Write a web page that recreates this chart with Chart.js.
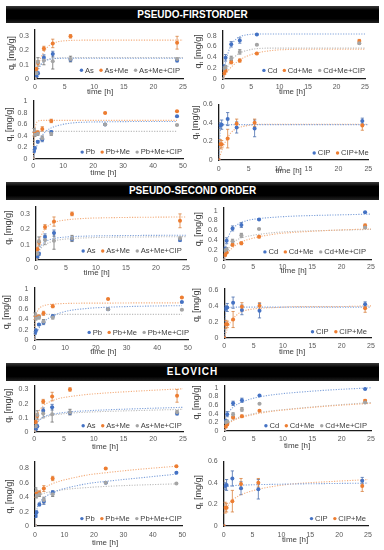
<!DOCTYPE html>
<html><head><meta charset="utf-8">
<script src="https://cdn.jsdelivr.net/npm/chart.js@4.4.1/dist/chart.umd.min.js"></script>
<style>
html,body{margin:0;padding:0;background:#fff}
body{width:384px;height:550px;position:relative;overflow:hidden;font-family:"Liberation Sans",Arial,sans-serif}
.banner{position:absolute;left:6px;width:373px;background:linear-gradient(#3a3a3a,#000 25%,#000 75%,#222);color:#fff;font-weight:bold;font-size:10px;text-align:center;white-space:nowrap}
canvas{position:absolute}
</style></head><body>
<div class="banner" style="top:6px;height:17px;line-height:17px">PSEUDO-FIRSTORDER</div>
<div class="banner" style="top:182px;height:18px;line-height:18px">PSEUDO-SECOND ORDER</div>
<div class="banner" style="top:363px;height:18px;line-height:18px;letter-spacing:1px">ELOVICH</div>
<script>
// ---------- measured data (time in h, q in mg/g) ----------
const times7 = [0, 0.25, 0.5, 1.5, 3, 6, 24];
const times8 = [0, 0.25, 0.5, 1.5, 3, 6, 24, 48];

const asQ        = [0, 0.02, 0.04, 0.15, 0.175, 0.135, 0.13];
const asErr      = [0, 0.005, 0.01, 0.02, 0.02, 0.01, 0.01];
const asMeQ      = [0, 0.07, 0.115, 0.215, 0.25, 0.30, 0.255];
const asMeErr    = [0, 0.01, 0.015, 0.015, 0.03, 0.012, 0.045];
const asMeCipQ   = [0, 0.04, 0.12, 0.13, 0.125, 0.14, 0.14];
const asMeCipErr = [0, 0.01, 0.03, 0.03, 0.055, 0.02, 0.01];

const cdQ        = [0, 0.23, 0.39, 0.64, 0.71, 0.82, 0.97];
const cdErr      = [0, 0.03, 0.06, 0.05, 0.05, 0.01, 0.01];
const cdMeQ      = [0, 0.10, 0.15, 0.31, 0.34, 0.47, 0.70];
const cdMeErr    = [0, 0.02, 0.02, 0.03, 0.03, 0.02, 0.03];
const cdMeCipQ   = [0, 0.20, 0.22, 0.38, 0.50, 0.63, 0.66];
const cdMeCipErr = [0, 0.03, 0.03, 0.04, 0.04, 0.01, 0.02];

const pbQ        = [0, 0.14, 0.19, 0.30, 0.34, 0.47, 0.60, 0.74];
const pbErr      = [0, 0.02, 0.02, 0.02, 0.04, 0.02, 0.01, 0.01];
const pbMeQ      = [0, 0.43, 0.46, 0.46, 0.52, 0.66, 0.80, 0.83];
const pbMeErr    = [0, 0.03, 0.03, 0.03, 0.04, 0.03, 0.01, 0.01];
const pbMeCipQ   = [0, 0.50, 0.42, 0.44, 0.36, 0.44, 0.60, 0.59];
const pbMeCipErr = [0, 0.03, 0.03, 0.03, 0.04, 0.03, 0.01, 0.01];

const cipQ       = [0, 0.37, 0.38, 0.44, 0.35, 0.34, 0.42];
const cipErr     = [0, 0.03, 0.05, 0.07, 0.06, 0.09, 0.03];
const cipMeQ     = [0, 0.17, 0.17, 0.23, 0.39, 0.40, 0.37];
const cipMeErr   = [0, 0.05, 0.04, 0.10, 0.05, 0.04, 0.05];

// ---------- fitted model curves ----------
const fitT25 = [0, 0.25, 0.5, 1, 1.5, 2, 3, 4, 6, 9, 12, 18, 25];
const fitT50 = [0, 0.25, 0.5, 1, 1.5, 2, 3, 4, 6, 9, 12, 18, 24, 36, 48];

// pseudo-first order
const pfoAs       = [0, 0.033, 0.06, 0.10, 0.122, 0.133, 0.142, 0.145, 0.146, 0.146, 0.146, 0.146, 0.146];
const pfoAsMe     = [0, 0.05, 0.09, 0.15, 0.19, 0.22, 0.25, 0.263, 0.271, 0.273, 0.273, 0.273, 0.273];
const pfoAsMeCip  = [0, 0.04, 0.07, 0.105, 0.125, 0.136, 0.145, 0.148, 0.15, 0.15, 0.15, 0.15, 0.15];
const pfoCd       = [0, 0.12, 0.30, 0.50, 0.62, 0.70, 0.78, 0.81, 0.83, 0.83, 0.83, 0.83, 0.83];
const pfoCdMe     = [0, 0.04, 0.08, 0.16, 0.22, 0.27, 0.35, 0.41, 0.48, 0.53, 0.545, 0.55, 0.55];
const pfoCdMeCip  = [0, 0.06, 0.12, 0.25, 0.34, 0.40, 0.48, 0.52, 0.56, 0.57, 0.57, 0.57, 0.57];
const pfoPb       = [0, 0.06, 0.11, 0.20, 0.27, 0.33, 0.41, 0.47, 0.54, 0.59, 0.62, 0.64, 0.645, 0.65, 0.65];
const pfoPbMe     = [0, 0.35, 0.50, 0.62, 0.655, 0.665, 0.67, 0.67, 0.67, 0.67, 0.67, 0.67, 0.67, 0.67, 0.67];
const pfoPbMeCip  = [0, 0.30, 0.42, 0.47, 0.48, 0.48, 0.48, 0.48, 0.48, 0.48, 0.48, 0.48, 0.48, 0.48, 0.48];
const pfoCip      = [0, 0.30, 0.37, 0.38, 0.38, 0.38, 0.38, 0.38, 0.38, 0.38, 0.38, 0.38, 0.38];
const pfoCipMe    = [0, 0.05, 0.10, 0.18, 0.24, 0.29, 0.34, 0.36, 0.38, 0.385, 0.385, 0.385, 0.385];

// pseudo-second order
const psoAs       = [0, 0.04, 0.07, 0.10, 0.118, 0.128, 0.14, 0.146, 0.152, 0.156, 0.158, 0.16, 0.161];
const psoAsMe     = [0, 0.07, 0.12, 0.17, 0.20, 0.22, 0.245, 0.255, 0.265, 0.272, 0.275, 0.278, 0.28];
const psoAsMeCip  = [0, 0.03, 0.055, 0.085, 0.10, 0.11, 0.125, 0.132, 0.14, 0.145, 0.148, 0.15, 0.152];
const psoCd       = [0, 0.20, 0.35, 0.53, 0.63, 0.69, 0.76, 0.80, 0.84, 0.87, 0.89, 0.91, 0.93];
const psoCdMe     = [0, 0.06, 0.11, 0.19, 0.25, 0.30, 0.37, 0.41, 0.47, 0.53, 0.56, 0.60, 0.63];
const psoCdMeCip  = [0, 0.09, 0.16, 0.27, 0.34, 0.39, 0.45, 0.48, 0.52, 0.56, 0.58, 0.60, 0.62];
const psoPb       = [0, 0.05, 0.10, 0.17, 0.23, 0.28, 0.35, 0.40, 0.47, 0.54, 0.58, 0.62, 0.64, 0.66, 0.67];
const psoPbMe     = [0, 0.33, 0.45, 0.56, 0.61, 0.64, 0.67, 0.685, 0.70, 0.71, 0.715, 0.72, 0.72, 0.725, 0.725];
const psoPbMeCip  = [0, 0.35, 0.43, 0.47, 0.48, 0.49, 0.495, 0.50, 0.50, 0.50, 0.50, 0.50, 0.50, 0.50, 0.50];
const psoCip      = [0, 0.33, 0.37, 0.38, 0.385, 0.385, 0.385, 0.385, 0.385, 0.385, 0.385, 0.385, 0.385];
const psoCipMe    = [0, 0.06, 0.11, 0.19, 0.24, 0.28, 0.33, 0.35, 0.37, 0.38, 0.39, 0.39, 0.40];

// Elovich (no value at t = 0)
const eloAs       = [null, 0.04, 0.065, 0.09, 0.105, 0.115, 0.125, 0.132, 0.142, 0.15, 0.156, 0.165, 0.174];
const eloAsMe     = [null, 0.08, 0.12, 0.16, 0.185, 0.20, 0.22, 0.235, 0.25, 0.265, 0.275, 0.29, 0.305];
const eloAsMeCip  = [null, 0.05, 0.07, 0.09, 0.10, 0.108, 0.118, 0.124, 0.133, 0.14, 0.145, 0.152, 0.16];
const eloCd       = [null, 0.27, 0.38, 0.48, 0.55, 0.60, 0.67, 0.72, 0.79, 0.85, 0.89, 0.95, 1.0];
const eloCdMe     = [null, 0.08, 0.13, 0.20, 0.24, 0.27, 0.32, 0.35, 0.41, 0.47, 0.51, 0.58, 0.64];
const eloCdMeCip  = [null, 0.10, 0.15, 0.22, 0.26, 0.29, 0.34, 0.37, 0.43, 0.48, 0.52, 0.59, 0.66];
const eloPb       = [null, 0.12, 0.20, 0.28, 0.32, 0.35, 0.39, 0.42, 0.46, 0.51, 0.54, 0.59, 0.62, 0.67, 0.72];
const eloPbMe     = [null, 0.40, 0.43, 0.46, 0.48, 0.50, 0.53, 0.55, 0.59, 0.63, 0.66, 0.71, 0.74, 0.79, 0.83];
const eloPbMeCip  = [null, 0.37, 0.39, 0.41, 0.43, 0.44, 0.455, 0.465, 0.48, 0.50, 0.515, 0.535, 0.55, 0.57, 0.585];
const eloCip      = [null, 0.36, 0.365, 0.37, 0.373, 0.375, 0.378, 0.38, 0.383, 0.386, 0.389, 0.393, 0.397];
const eloCipMe    = [null, 0.12, 0.16, 0.21, 0.24, 0.26, 0.29, 0.31, 0.34, 0.37, 0.39, 0.41, 0.43];

// ---------- labels & ticks ----------
const asLabels  = ['As', 'As+Me', 'As+Me+CIP'];
const cdLabels  = ['Cd', 'Cd+Me', 'Cd+Me+CIP'];
const pbLabels  = ['Pb', 'Pb+Me', 'Pb+Me+CIP'];
const cipLabels = ['CIP', 'CIP+Me'];
const xTicks25 = [0, 5, 10, 15, 20, 25];
const xTicks50 = [0, 10, 20, 30, 40, 50];
const yTicks03 = [0, 0.1, 0.2, 0.3];
const yTicks08 = [0, 0.2, 0.4, 0.6, 0.8];
const yTicks1  = [0, 0.2, 0.4, 0.6, 0.8, 1];
const yTicks06 = [0, 0.2, 0.4, 0.6];
const xTitleText = 'time [h]';

// ---------- styles ----------
const COLORS = ['#4472C4', '#ED7D31', '#A5A5A5'];
const FITCOLORS = ['#7EA1DA', '#F3AE7E', '#BDBDBD'];
const ERRCOLORS = ['#4a6fae', '#d9823f', '#6d6d6d'];
const FONT = '"Liberation Sans", Arial, sans-serif';

const groups = {
  as:  {labels: asLabels,  t: times7, q: [asQ, asMeQ, asMeCipQ], e: [asErr, asMeErr, asMeCipErr]},
  cd:  {labels: cdLabels,  t: times7, q: [cdQ, cdMeQ, cdMeCipQ], e: [cdErr, cdMeErr, cdMeCipErr]},
  pb:  {labels: pbLabels,  t: times8, q: [pbQ, pbMeQ, pbMeCipQ], e: [pbErr, pbMeErr, pbMeCipErr]},
  cip: {labels: cipLabels, t: times7, q: [cipQ, cipMeQ], e: [cipErr, cipMeErr]}
};

// layout of the 12 panels (page pixels)
const panels = [
  {g:'as',  fits:[pfoAs, pfoAsMe, pfoAsMeCip], ft:fitT25, col:0,   L:35,    T:25.3,  R:182.7, B:79,    yMax:0.35, yT:yTicks03, xMax:25, xT:xTicks25, lbl:8,   xt:[100,92.5],   yt:[11.7,53.3],  lg:[180,70.5]},
  {g:'cd',  fits:[pfoCd, pfoCdMe, pfoCdMeCip], ft:fitT25, col:192, L:222.7, T:26.3,  R:364.7, B:79,    yMax:0.9,  yT:yTicks08, xMax:25, xT:xTicks25, lbl:8,   xt:[292,92.5],   yt:[198.7,51.7], lg:[365,70.7]},
  {g:'pb',  fits:[pfoPb, pfoPbMe, pfoPbMeCip], ft:fitT50, col:0,   L:33.3,  T:95.6,  R:182.7, B:158.3, yMax:1.02, yT:yTicks1,  xMax:50, xT:xTicks50, lbl:7.4, xt:[103.3,172.7],yt:[10,124],     lg:[182,151.7]},
  {g:'cip', fits:[pfoCip, pfoCipMe],           ft:fitT25, col:192, L:218.7, T:100,   R:369,   B:160,   yMax:0.6,  yT:yTicks06, xMax:25, xT:xTicks25, lbl:9,   xt:[288.7,171],  yt:[195.3,122.5],lg:[368.7,153]},
  {g:'as',  fits:[psoAs, psoAsMe, psoAsMeCip], ft:fitT25, col:0,   L:36,    T:201.7, R:185.7, B:260,   yMax:0.35, yT:yTicks03, xMax:25, xT:xTicks25, lbl:8,   xt:[96.7,272],   yt:[8.3,227.3],  lg:[181.7,250.7]},
  {g:'cd',  fits:[psoCd, psoCdMe, psoCdMeCip], ft:fitT25, col:192, L:223.7, T:202.8, R:371,   B:260,   yMax:1.07, yT:yTicks1,  xMax:25, xT:xTicks25, lbl:7.3, xt:[293.7,271],  yt:[198.7,229],  lg:[366,251.7]},
  {g:'pb',  fits:[psoPb, psoPbMe, psoPbMeCip], ft:fitT50, col:0,   L:34.3,  T:283.3, R:188,   B:340,   yMax:1.03, yT:yTicks1,  xMax:50, xT:xTicks50, lbl:7.7, xt:[103.3,352.3],yt:[6.7,312.5],  lg:[189,332.7]},
  {g:'cip', fits:[psoCip, psoCipMe],           ft:fitT25, col:192, L:224.3, T:284,   R:371,   B:338.3, yMax:0.62, yT:yTicks06, xMax:25, xT:xTicks25, lbl:7.7, xt:[292,351.7],  yt:[197,305],    lg:[367,331.7]},
  {g:'as',  fits:[eloAs, eloAsMe, eloAsMeCip], ft:fitT25, col:0,   L:34.3,  T:381.2, R:182.7, B:431.7, yMax:0.33, yT:yTicks03, xMax:25, xT:xTicks25, lbl:7.3, xt:[105,447],    yt:[8.3,405.8],  lg:[181.7,426]},
  {g:'cd',  fits:[eloCd, eloCdMe, eloCdMeCip], ft:fitT25, col:192, L:224.3, T:381.2, R:371,   B:431,   yMax:1.06, yT:yTicks1,  xMax:25, xT:xTicks25, lbl:8.3, xt:[297,445.7],  yt:[197,402.5],  lg:[367,426]},
  {g:'pb',  fits:[eloPb, eloPbMe, eloPbMeCip], ft:fitT50, col:0,   L:35,    T:457.4, R:182.7, B:526,   yMax:0.9,  yT:yTicks08, xMax:50, xT:xTicks50, lbl:9,   xt:[105,542.7],  yt:[10,496.7],   lg:[181.7,519]},
  {g:'cip', fits:[eloCip, eloCipMe],           ft:fitT25, col:192, L:223.7, T:457.4, R:368.7, B:526.7, yMax:0.6,  yT:yTicks06, xMax:25, xT:xTicks25, lbl:9.3, xt:[295,540],    yt:[198.7,492.5],lg:[366,519]}
];

// ---------- plugins ----------
const errorBars = {
  id: 'errorBars',
  beforeDatasetsDraw(chart) {
    const ctx = chart.ctx, xs = chart.scales.x, ys = chart.scales.y, a = chart.chartArea;
    ctx.save();
    ctx.beginPath(); ctx.rect(a.left - 3, a.top - 1, a.right - a.left + 6, a.bottom - a.top + 4); ctx.clip();
    chart.data.datasets.forEach(ds => {
      if (!ds.errors) return;
      ctx.strokeStyle = ds.errColor; ctx.lineWidth = 0.8;
      ds.data.forEach((p, j) => {
        const e = ds.errors[j]; if (!e) return;
        const x = xs.getPixelForValue(p.x);
        const y1 = ys.getPixelForValue(p.y - e), y2 = ys.getPixelForValue(p.y + e);
        ctx.beginPath();
        ctx.moveTo(x, y1); ctx.lineTo(x, y2);
        ctx.moveTo(x - 1.6, y1); ctx.lineTo(x + 1.6, y1);
        ctx.moveTo(x - 1.6, y2); ctx.lineTo(x + 1.6, y2);
        ctx.stroke();
      });
    });
    ctx.restore();
  }
};

const annotations = {
  id: 'annotations',
  afterDraw(chart) {
    const p = chart.canvas.$panel; if (!p) return;
    const ctx = chart.ctx;
    const ox = p.cx, oy = p.cy;
    ctx.save();
    ctx.fillStyle = '#404040';
    ctx.font = '8px ' + FONT;
    ctx.textAlign = 'center'; ctx.textBaseline = 'middle';
    ctx.fillText(xTitleText, p.xt[0] - ox, p.xt[1] - oy);
    ctx.translate(p.yt[0] - ox, p.yt[1] - oy);
    ctx.rotate(-Math.PI / 2);
    ctx.textAlign = 'left';
    ctx.font = '9px ' + FONT; const wq = ctx.measureText('q').width; const wr = ctx.measureText(' [mg/g]').width;
    ctx.font = '6px ' + FONT; const wt = ctx.measureText('t').width;
    const s = -(wq + wt + wr) / 2;
    ctx.font = '9px ' + FONT; ctx.fillText('q', s, 0);
    ctx.font = '6px ' + FONT; ctx.fillText('t', s + wq, 2.2);
    ctx.font = '9px ' + FONT; ctx.fillText(' [mg/g]', s + wq + wt, 0);
    ctx.restore();
    ctx.save();
    const items = chart.data.datasets.filter(d => d.inLegend);
    ctx.font = '7.6px ' + FONT; ctx.textBaseline = 'middle'; ctx.textAlign = 'left';
    const ms = 3.4, gap = 1.8, sep = 5.5;
    const widths = items.map(d => ms + gap + ctx.measureText(d.label).width);
    const total = widths.reduce((a, b) => a + b, 0) + sep * (items.length - 1);
    let x = p.lg[0] - ox - total; const y = p.lg[1] - oy;
    items.forEach((d, i) => {
      ctx.fillStyle = d.backgroundColor;
      ctx.beginPath(); ctx.arc(x + ms / 2, y, ms / 2, 0, Math.PI * 2); ctx.fill();
      ctx.fillStyle = '#404040';
      ctx.fillText(d.label, x + ms + gap, y + 0.3);
      x += widths[i] + sep;
    });
    ctx.restore();
  }
};

// ---------- build charts ----------
const PAD_T = 6, PAD_R = 8, X_H = 22;
panels.forEach(p => {
  const g = groups[p.g];
  const cx = p.col, cy = p.T - PAD_T;
  const w = Math.round(p.R + PAD_R - cx), h = Math.round(p.B + X_H - cy);
  p.cx = cx; p.cy = cy;
  const cv = document.createElement('canvas');
  cv.$panel = p;
  cv.width = w; cv.height = h;
  cv.style.left = cx + 'px'; cv.style.top = cy + 'px';
  cv.style.width = w + 'px'; cv.style.height = h + 'px';
  document.body.appendChild(cv);

  const datasets = [];
  p.fits.forEach((f, i) => {
    datasets.push({
      type: 'line', label: 'fit ' + g.labels[i],
      data: p.ft.map((x, k) => ({x, y: f[k]})).filter(pt => pt.y !== null),
      borderColor: FITCOLORS[i], borderWidth: 1.1, borderDash: [1.2, 1.4],
      pointRadius: 0, cubicInterpolationMode: 'monotone', fill: false, order: 2
    });
  });
  g.q.forEach((q, i) => {
    datasets.push({
      type: 'scatter', label: g.labels[i], inLegend: true,
      data: g.t.map((x, k) => ({x, y: q[k]})),
      errors: g.e[i], errColor: ERRCOLORS[i],
      backgroundColor: COLORS[i], borderColor: COLORS[i], borderWidth: 0,
      pointRadius: 2, pointStyle: 'circle', order: 1 - i * 0.1
    });
  });

  new Chart(cv, {
    data: {datasets},
    options: {
      responsive: false, animation: false, devicePixelRatio: 1,
      layout: {padding: {top: PAD_T, right: PAD_R, left: 0, bottom: 0}},
      plugins: {legend: {display: false}, tooltip: {enabled: false}},
      scales: {
        x: {
          type: 'linear', min: 0, max: p.xMax,
          afterBuildTicks: s => { s.ticks = p.xT.map(v => ({value: v})); },
          afterFit: s => { s.height = X_H; },
          grid: {display: false, drawTicks: false},
          border: {display: true, color: '#1a1a1a', width: 1.3},
          ticks: {font: {size: 7, family: FONT}, color: '#595959', padding: p.lbl - 4.2, maxRotation: 0, autoSkip: false,
                  callback: v => String(v)}
        },
        y: {
          type: 'linear', min: 0, max: p.yMax,
          afterBuildTicks: s => { s.ticks = p.yT.map(v => ({value: v})); },
          afterFit: s => { s.width = p.L - cx; },
          grid: {display: false, drawTicks: false},
          border: {display: true, color: '#1a1a1a', width: 1.3},
          ticks: {font: {size: 7, family: FONT}, color: '#595959', padding: 6, autoSkip: false,
                  callback: v => String(+v.toFixed(2))}
        }
      }
    },
    plugins: [errorBars, annotations]
  });
});
</script>
</body></html>
